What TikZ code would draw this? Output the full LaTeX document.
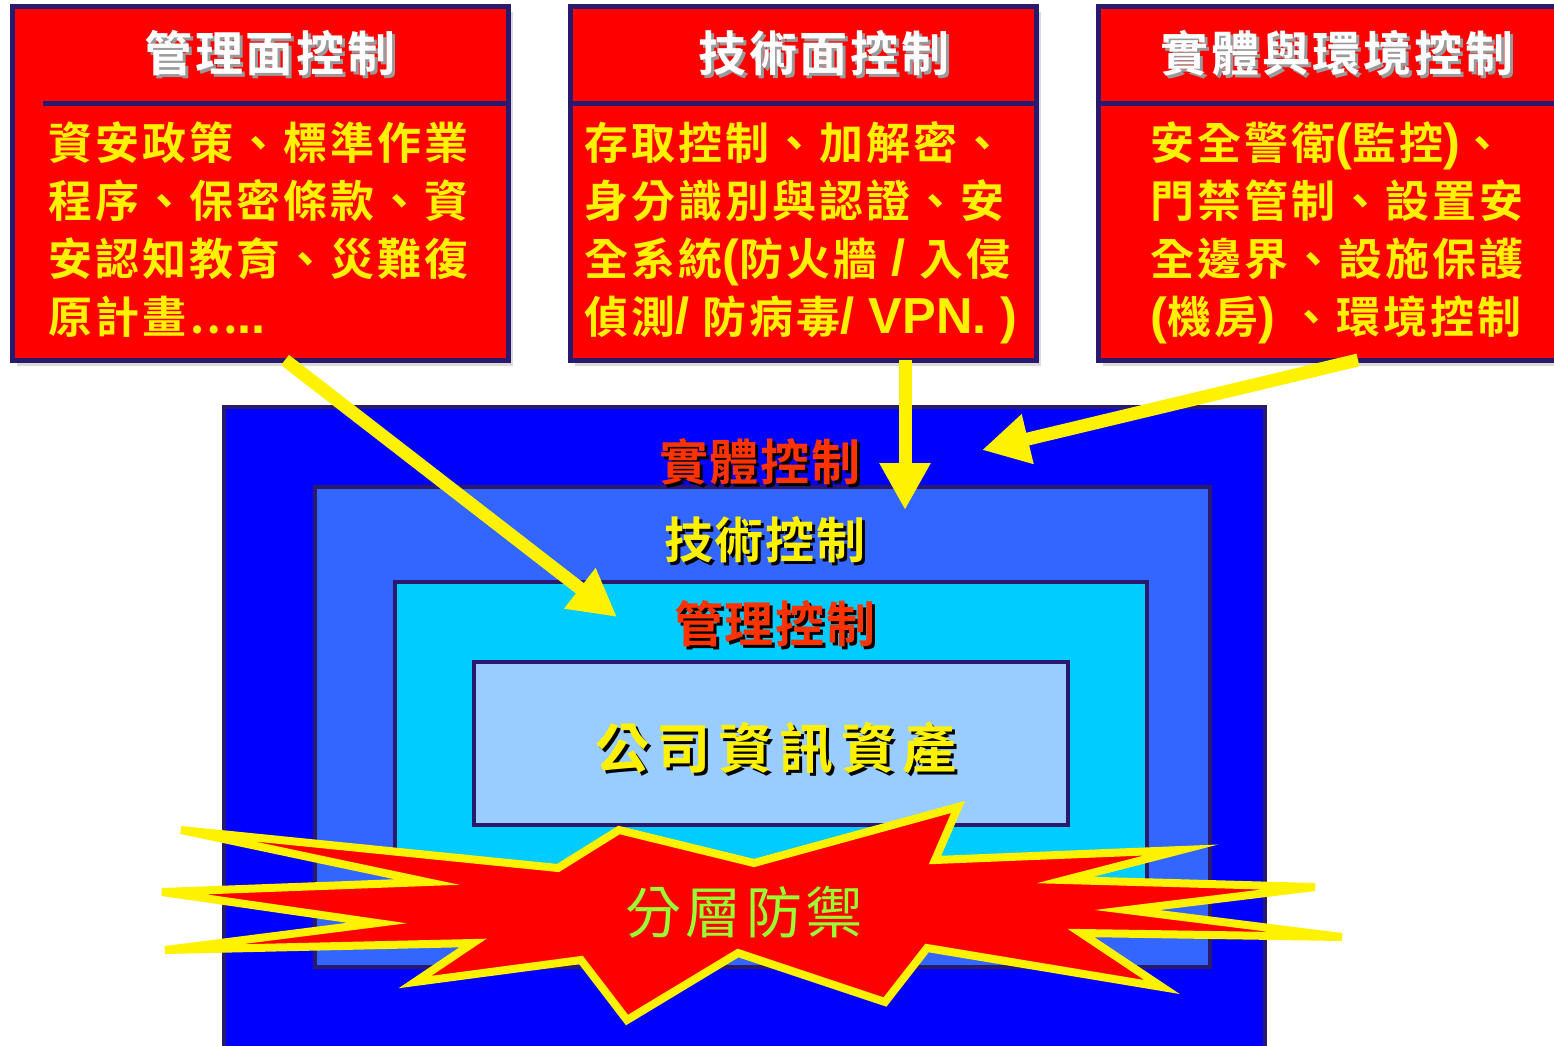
\documentclass[tikz,border=0pt]{standalone}
\usepackage{fontspec}
\newfontfamily\headfont{Noto Sans CJK TC Bold}[LetterSpace=6]
\newfontfamily\bodyfont{Noto Sans CJK TC Bold}[LetterSpace=7]
\newfontfamily\ringfont{Noto Sans CJK TC Bold}[LetterSpace=4]
\newfontfamily\assetfont{Noto Sans CJK TC Bold}[LetterSpace=14]
\newfontfamily\burstfont{Noto Sans CJK TC}[LetterSpace=8]
\newfontfamily\latinfont{Liberation Sans}[Scale=1.15]
\usetikzlibrary{arrows.meta,shadows}

\definecolor{navy}{HTML}{2A1A6E}
\definecolor{boxshade}{HTML}{DADADA}
\definecolor{ringphys}{HTML}{0000FF}
\definecolor{ringtech}{HTML}{3366FF}
\definecolor{ringmgmt}{HTML}{00CCFF}
\definecolor{ringasset}{HTML}{99CCFF}
\definecolor{labelred}{HTML}{FF3300}
\definecolor{burstgreen}{HTML}{99FF33}
\definecolor{titleshade}{HTML}{9A9A9A}

% text with a small offset shadow behind it
\newcommand\embossed[2]{\rlap{\kern3pt\raisebox{-3pt}{\textcolor{#1}{#2}}}#2}
% latin runs inside the boxes, no letter spacing
\newcommand\lat[1]{{\latinfont\bfseries #1}}

\tikzset{
  topbox/.style={draw=navy, line width=5pt, fill=red, inner sep=0pt,
    general shadow={fill=boxshade, shadow xshift=5pt, shadow yshift=-6pt}},
  ring/.style={draw=navy, line width=4.5pt, inner sep=0pt},
  title/.style={text=white, inner sep=0pt, font={\headfont\fontsize{48}{52}\selectfont}},
  body/.style={text=yellow, align=left, inner sep=0pt, anchor=north west,
    font={\bodyfont\fontsize{44}{58}\selectfont}},
  ringlabel/.style={inner sep=0pt, font={\ringfont\fontsize{49}{52}\selectfont}},
  feed/.style={draw=yellow, line width=13pt, -{Triangle[length=47pt,width=48pt]}},
}

\begin{document}
\begin{tikzpicture}[x=1pt,y=-1pt]
    \useasboundingbox (0,0) rectangle (1554,1045);
    \clip (0,0) rectangle (1554,1045);

    % Nested rings of defence
    \node[ring, fill=ringphys, minimum width=1041pt, minimum height=663pt] (physring) at (744.5,738.5) {};
    \node[ring, fill=ringtech, minimum width=895pt, minimum height=480pt] (techring) at (762.5,727) {};
    \node[ring, fill=ringmgmt, minimum width=752pt, minimum height=318pt] (mgmtring) at (771,741) {};
    \node[ring, fill=ringasset, minimum width=594pt, minimum height=163pt] (asset) at (771,743.5) {};

    % Ring labels
    \node[ringlabel, text=labelred] (physlabel) at (760,463) {\embossed{black}{實體控制}};
    \node[ringlabel, text=yellow] (techlabel) at (765,541) {\embossed{black}{技術控制}};
    \node[ringlabel, text=labelred] (mgmtlabel) at (775,625) {\embossed{black}{管理控制}};
    \node[inner sep=0pt, text=yellow, font={\assetfont\fontsize{54}{58}\selectfont}] (assetlabel) at (776,750) {\embossed{black}{公司資訊資產}};

    % Starburst
    \filldraw[fill=red, draw=yellow, line width=8pt, line join=miter]
        (181,830) -- (558,868) -- (619,830) -- (754,863) -- (958,807) -- (935,860)
        -- (1181,850) -- (1065,880) -- (1315,887) -- (1127,910) -- (1342,937)
        -- (1081,933) -- (1162,987) -- (927,948) -- (885,1002) -- (738,953)
        -- (627,1020) -- (581,960) -- (415,982) -- (473,943) -- (165,950)
        -- (377,923) -- (162,892) -- (427,882) -- cycle;
    \node[inner sep=0pt, text=burstgreen, font={\burstfont\fontsize{56}{60}\selectfont}] (layered) at (744,912) {分層防禦};

    % Three control boxes
    \node[topbox, minimum width=496pt, minimum height=354pt] (mgmt) at (260,183) {};
    \node[topbox, minimum width=466pt, minimum height=354pt] (tech) at (803,183) {};
    \node[topbox, minimum width=472pt, minimum height=354pt] (phys) at (1334,183) {};
    \draw[navy, line width=5pt] (43,103) -- (mgmt.east |- 0,103);
    \draw[navy, line width=5pt] (tech.west |- 0,103) -- (tech.east |- 0,103);
    \draw[navy, line width=5pt] (phys.west |- 0,103) -- (phys.east |- 0,103);

    \node[title] (mgmttitle) at (270,55) {\embossed{titleshade}{管理面控制}};
    \node[title] (techtitle) at (824,55) {\embossed{titleshade}{技術面控制}};
    \node[title] (phystitle) at (1337,55) {\embossed{titleshade}{實體與環境控制}};

    \node[body] (mgmttext) at (48,121) {資安政策、標準作業\\程序、保密條款、資\\安認知教育、災難復\\原計畫…\lat{..}};
    \node[body] (techtext) at (584,121) {存取控制、加解密、\\身分識別與認證、安\\全系統\lat{(}防火牆\lat{ / }入侵\\偵測\lat{/} 防病毒\lat{/ VPN. )}};
    \node[body] (phystext) at (1150,121) {安全警衛\lat{(}監控\lat{)}、\\門禁管制、設置安\\全邊界、設施保護\\\lat{(}機房\lat{) }、環境控制};

    % Arrows into the rings
    \coordinate (mgmtfoot) at (285,360);
    \coordinate (mgmttip) at (617,617);
    \coordinate (techfoot) at (905,360);
    \coordinate (techtip) at (905,510);
    \coordinate (physfoot) at (1358,360);
    \coordinate (phystip) at (982,450);
    \draw[feed] (mgmtfoot) -- (mgmttip);
    \draw[feed] (techfoot) -- (techtip);
    \draw[feed] (physfoot) -- (phystip);
\end{tikzpicture}
\end{document}
